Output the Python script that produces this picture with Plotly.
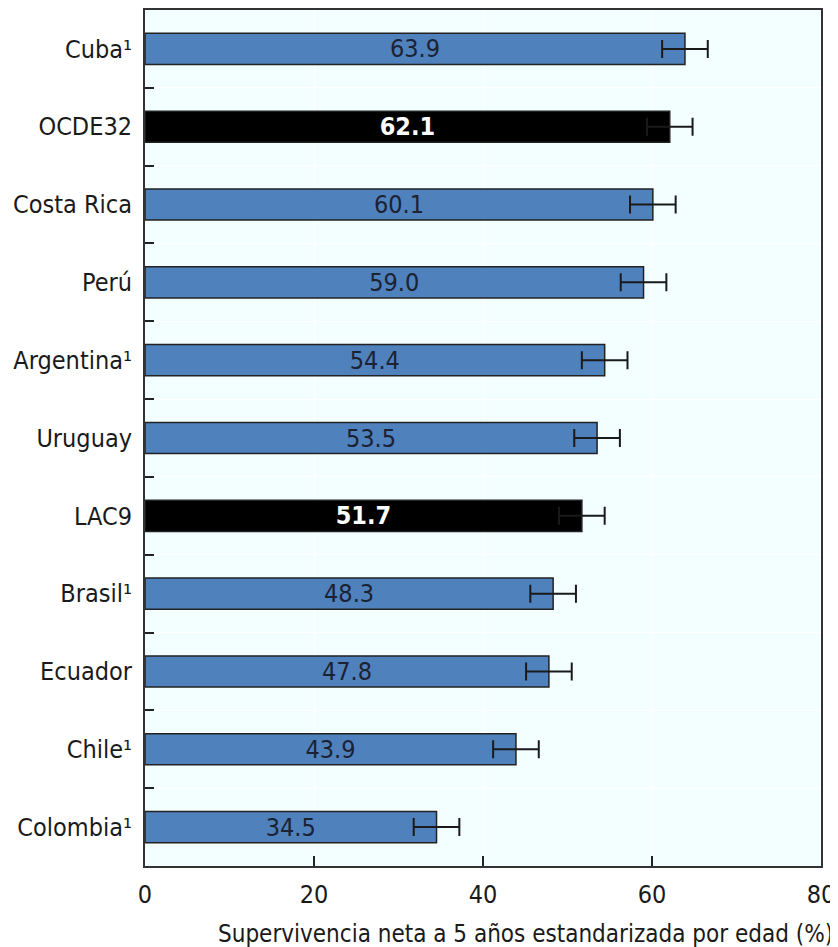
import plotly.graph_objects as go

countries = ["Cuba¹", "OCDE32", "Costa Rica", "Perú", "Argentina¹", "Uruguay",
             "LAC9", "Brasil¹", "Ecuador", "Chile¹", "Colombia¹"]
survival = [63.9, 62.1, 60.1, 59.0, 54.4, 53.5, 51.7, 48.3, 47.8, 43.9, 34.5]
ci_half = [2.7, 2.7, 2.7, 2.7, 2.7, 2.7, 2.7, 2.7, 2.7, 2.7, 2.7]
highlight = ["OCDE32", "LAC9"]
x_ticks = [0, 20, 40, 60, 80]
x_title = "Supervivencia neta a 5 años estandarizada por edad (%)"

FONT = "DejaVu Sans Condensed, Liberation Sans Narrow, Arial Narrow, sans-serif"
BLUE = "#4F81BD"
FS = 25

colors = ["#000000" if c in highlight else BLUE for c in countries]
text_colors = ["#ffffff" if c in highlight else "#1b2233" for c in countries]
texts = [f"<b>{v:.1f}</b>" if c in highlight else f"{v:.1f}" for c, v in zip(countries, survival)]

fig = go.Figure()
fig.add_trace(go.Bar(
    x=survival, y=countries, orientation="h",
    marker=dict(color=colors, line=dict(color="#222222", width=1.5)),
    width=0.4,
    text=texts, textposition="inside", insidetextanchor="middle",
    constraintext="none", cliponaxis=False,
    textfont=dict(family=FONT, size=FS, color=text_colors),
    error_x=dict(type="data", array=ci_half, visible=True, color="#1a1a1a",
                 thickness=2, width=9),
    showlegend=False,
))

fig.update_layout(
    width=830, height=939,
    margin=dict(l=137, r=17, t=2, b=81),
    paper_bgcolor="white",
    plot_bgcolor="#F2FEFF",
    font=dict(family=FONT, size=FS, color="#1a1a1a"),
    xaxis=dict(range=[0, 80], tickvals=x_ticks, ticktext=[str(t) for t in x_ticks],
               ticks="inside", ticklen=10, tickwidth=1.5, tickcolor="#222222",
               showgrid=True, gridcolor="white", gridwidth=1,
               zeroline=False, showline=True, linecolor="#333333", linewidth=2,
               mirror=True, tickfont=dict(size=FS), automargin=False,
               ticklabelstandoff=5),
    yaxis=dict(autorange="reversed", type="category",
               ticks="inside", ticklen=9, tickwidth=1.5, tickcolor="#222222",
               tickson="boundaries",
               showgrid=True, gridcolor="white", gridwidth=1,
               showline=True, linecolor="#333333", linewidth=2, mirror=True,
               tickfont=dict(size=FS), ticklabelstandoff=6, automargin=False),
    annotations=[dict(text=x_title, xref="paper", yref="paper",
                      x=1.021, y=0, xanchor="right", yanchor="top", yshift=-52,
                      showarrow=False, font=dict(family=FONT, size=24, color="#1a1a1a"))],
    bargap=0.6,
)

fig.write_html("out.html")
